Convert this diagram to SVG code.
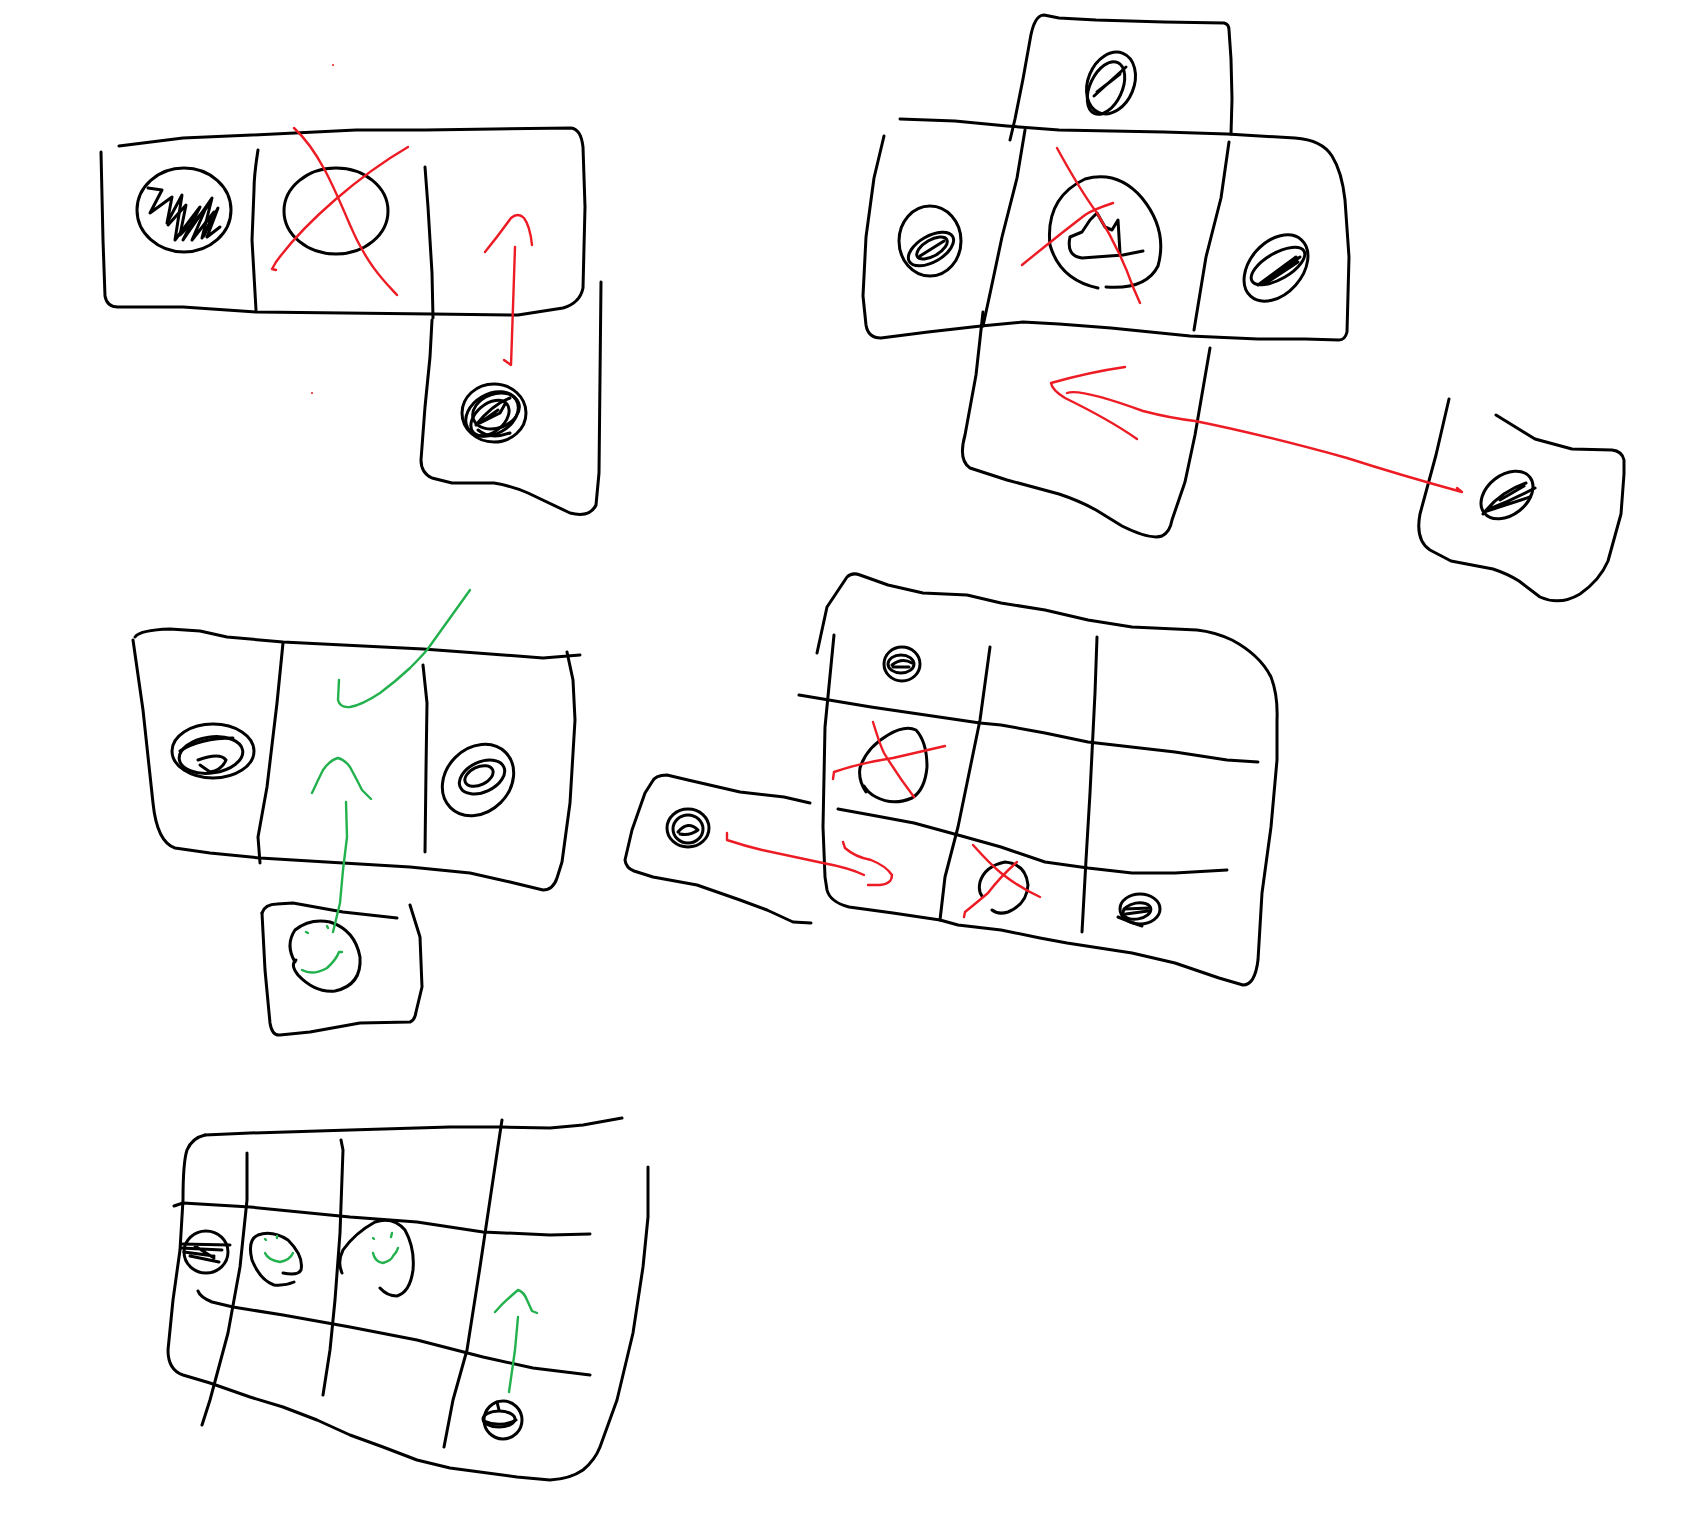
<svg xmlns="http://www.w3.org/2000/svg" width="1681" height="1525" viewBox="0 0 1681 1525">
<style>
.k{fill:none;stroke:#000;stroke-width:3;stroke-linecap:round;stroke-linejoin:round}
.r{fill:none;stroke:#ed1c24;stroke-width:2.4;stroke-linecap:round;stroke-linejoin:round}
.g{fill:none;stroke:#22b14c;stroke-width:2.4;stroke-linecap:round;stroke-linejoin:round}
</style>
<rect width="1681" height="1525" fill="#fff"/>

<!-- Section A: top-left -->
<g id="sheetA">
<path class="k" d="M101,152 L103,240 L105,296 Q107,307 118,307 L183,307 L256,312 L432,314 L518,315 L563,308 Q580,303 583,288 L585,207 L583,147 Q581,129 571,128 L494,129 L425,130 L356,130 L252,135 L183,138 L119,146"/>
<path class="k" d="M258,150 Q254,175 254,190 L252,240 L256,310"/>
<path class="k" d="M425,167 L428,207 L432,273 L433,318"/>
<path class="k" d="M432,320 L430,357 L425,407 L421,460 Q421,473 432,478 L452,483 L494,483 Q512,486 528,493 L570,513 Q590,518 596,505 L599,473 L601,282"/>
</g>
<g id="nodeA1">
<ellipse class="k" cx="184" cy="210" rx="47" ry="42"/>
<path class="k" d="M148,188 L162,190 L150,213 L172,197 L167,223 L182,195 L175,240 L200,207 L183,240 L212,198 L202,238 L218,208 L207,237 L220,227"/>
<path class="k" d="M168,225 L186,205 L180,235 L205,210 L192,240 L214,212 L204,236 M192,225 L208,206"/>
</g>
<g id="nodeA2">
<ellipse class="k" cx="336" cy="211" rx="52" ry="43"/>
</g>
<g id="nodeA3">
<ellipse class="k" cx="494" cy="413" rx="32" ry="29"/>
<ellipse class="k" cx="492" cy="414" rx="28" ry="20" transform="rotate(-30 492 414)"/>
<ellipse class="k" cx="496" cy="411" rx="24" ry="17" transform="rotate(-20 496 411)"/>
<ellipse class="k" cx="490" cy="418" rx="22" ry="14" transform="rotate(-40 490 418)"/>
<path class="k" d="M476,425 Q492,405 510,398 M480,423 L500,413 L505,404 M478,430 Q490,440 510,433 M484,420 L498,410"/>
</g>

<!-- Section B: top-right -->
<g id="sheetB">
<path class="k" d="M1010,140 L1015,119 L1023,79 L1030,40 Q1034,15 1044,15 L1059,18 L1096,20 L1164,22 L1224,23 Q1229,24 1229,30 L1231,59 L1232,99 L1231,134"/>
<path class="k" d="M900,119 L955,121 L1007,126 L1059,130 L1164,132 L1227,134 L1295,138 Q1322,140 1332,156 Q1342,172 1345,200 L1349,257 L1347,332 Q1345,340 1339,340 L1305,339 L1258,339 L1190,336 L1111,328 L1059,324 L1023,322 L981,326 L928,332 L881,338 Q868,338 866,325 L863,296 L866,237 L874,178 L884,136"/>
<path class="k" d="M1025,130 L1017,178 L1002,237 L991,289 L983,326"/>
<path class="k" d="M1229,142 L1221,198 L1206,257 L1194,330"/>
<path class="k" d="M983,312 L976,375 L965,435 Q958,460 970,468 L1007,480 L1059,494 Q1080,501 1096,510 L1122,526 Q1150,540 1162,536 Q1170,532 1172,520 L1185,482 L1195,435 L1210,348"/>
<path class="k" d="M1449,399 L1436,455 L1420,514 Q1415,540 1430,550 L1451,561 L1493,569 Q1508,574 1519,581 L1540,597 Q1560,606 1580,594 Q1600,580 1608,561 L1621,514 L1624,474 L1624,460 Q1622,451 1612,450 L1572,449 L1535,439 L1496,415"/>
</g>
<g id="nodeB1">
<ellipse class="k" cx="1111" cy="83" rx="23" ry="32" transform="rotate(22 1111 83)"/>
<ellipse class="k" cx="1106" cy="88" rx="16" ry="28" transform="rotate(25 1106 88)"/>
<path class="k" d="M1094,96 L1126,67 M1097,92 L1120,74"/>
</g>
<g id="nodeB2">
<ellipse class="k" cx="930" cy="241" rx="31" ry="35"/>
<ellipse class="k" cx="931" cy="249" rx="25" ry="13" transform="rotate(-30 931 249)"/>
<ellipse class="k" cx="932" cy="248" rx="17" ry="8" transform="rotate(-30 932 248)"/>
<path class="k" d="M920,256 L944,241"/>
</g>
<g id="nodeB3">
<path class="k" d="M1098,288 Q1060,280 1050,245 Q1045,198 1085,179 Q1118,170 1142,198 Q1168,230 1158,266 Q1146,290 1106,287"/>
<path class="k" d="M1070,237 Q1066,256 1082,258 L1123,255 L1143,251 M1070,237 L1082,232 L1090,220 L1097,213 L1105,227 L1112,230 L1118,220 L1120,253"/>
</g>
<g id="nodeB4">
<ellipse class="k" cx="1276" cy="268" rx="26" ry="38" transform="rotate(42 1276 268)"/>
<ellipse class="k" cx="1278" cy="266" rx="13" ry="30" transform="rotate(60 1278 266)"/>
<path class="k" d="M1258,285 L1296,257 M1262,284 L1300,257 M1266,283 L1298,262"/>
</g>
<g id="nodeB5">
<ellipse class="k" cx="1507" cy="495" rx="29" ry="20" transform="rotate(-38 1507 495)"/>
<path class="k" d="M1483,514 Q1500,492 1526,483 M1484,512 L1530,497 M1487,510 Q1512,500 1535,488 M1500,500 L1524,486"/>
</g>

<!-- Section C: middle-left -->
<g id="sheetC">
<path class="k" d="M135,637 Q140,630 170,629 L200,631 L227,637 L283,642 L343,645 L423,649 L477,653 L543,658 L580,655"/>
<path class="k" d="M133,640 L143,710 L153,803 Q157,842 175,848 L210,853 L260,858 L343,863 L410,867 L470,873 L510,882 L543,890 Q553,890 557,878 L562,862 L570,803 L575,720 L573,680 L567,652"/>
<path class="k" d="M283,643 L277,703 L267,787 L258,837 L260,863"/>
<path class="k" d="M423,665 L427,703 L426,770 L425,852"/>
<path class="k" d="M262,913 L265,970 L270,1023 Q272,1036 280,1035 L310,1032 L360,1023 L410,1022 Q415,1020 416,1012 L422,987 L420,937 L410,905"/>
<path class="k" d="M262,913 Q265,904 277,904 L293,903 L343,912 L397,918"/>
</g>
<g id="nodeC1">
<ellipse class="k" cx="213" cy="751" rx="41" ry="27"/>
<ellipse class="k" cx="211" cy="755" rx="32" ry="18" transform="rotate(-8 211 755)"/>
<path class="k" d="M180,751 Q200,738 233,738 M198,760 Q220,752 226,760 Q222,770 210,772 L200,765"/>
</g>
<g id="nodeC2">
<ellipse class="k" cx="478" cy="780" rx="32" ry="39" transform="rotate(45 478 780)"/>
<ellipse class="k" cx="482" cy="777" rx="24" ry="15" transform="rotate(-25 482 777)"/>
<ellipse class="k" cx="479" cy="776" rx="15" ry="9" transform="rotate(-25 479 776)"/>
</g>
<g id="nodeC3">
<path class="k" d="M295,962 Q285,945 295,930 Q310,918 330,922 Q355,930 360,957 Q362,985 335,991 Q315,993 298,975 Q290,965 296,960"/>
</g>

<!-- Section D: middle-right -->
<g id="sheetD">
<path class="k" d="M817,653 L827,607 L847,577 Q852,572 860,575 L888,585 L923,593 L967,595 L1001,603 L1045,610 L1088,620 L1132,627 L1197,630 Q1215,632 1232,640 Q1260,655 1271,677 Q1278,695 1277,720 L1277,760 L1271,827 L1262,893 L1258,960 Q1255,985 1243,985 L1219,978 L1175,963 L1132,953 L1067,943 L1040,938 L1001,930 L958,925 L940,920 L893,913 L849,907 Q830,902 827,890 L825,877 L823,827 L825,727 L834,635"/>
<path class="k" d="M990,647 L980,720 L958,827 L945,877 L940,920"/>
<path class="k" d="M1097,637 L1095,693 L1090,793 L1086,860 L1082,932"/>
<path class="k" d="M799,695 L871,707 L980,723 L1001,725 L1045,733 L1088,742 L1175,752 L1227,760 L1258,762"/>
<path class="k" d="M838,809 L871,815 L914,823 L958,835 L1001,847 L1045,862 L1088,868 L1132,873 L1175,873 L1227,870"/>
<path class="k" d="M810,803 L784,797 L740,792 L688,780 L667,775 Q655,775 652,782 L645,793 L632,830 L625,860 Q626,868 634,871 L653,877 L697,885 L740,900 L767,910 L793,922 L811,923"/>
</g>
<g id="nodeD1">
<ellipse class="k" cx="902" cy="664" rx="18" ry="17"/>
<ellipse class="k" cx="901" cy="664" rx="13" ry="9"/>
<path class="k" d="M892,665 Q902,657 912,663 M893,667 L909,667"/>
</g>
<g id="nodeD2">
<path class="k" d="M866,792 Q858,780 860,768 Q866,748 888,735 Q905,725 916,730 Q927,742 927,767 Q925,790 912,798 Q893,806 876,797 Q868,793 864,786"/>
</g>
<g id="nodeD3">
<path class="k" d="M992,910 Q998,915 1008,912 Q1027,904 1028,885 Q1026,864 1005,862 Q985,866 980,882 Q978,891 982,896"/>
</g>
<g id="nodeD4">
<ellipse class="k" cx="1140" cy="909" rx="20" ry="15"/>
<ellipse class="k" cx="1137" cy="911" rx="14" ry="8" transform="rotate(-10 1137 911)"/>
<path class="k" d="M1124,909 L1150,908 M1126,914 L1148,911 M1118,917 Q1130,922 1142,926"/>
</g>
<g id="nodeD5">
<ellipse class="k" cx="688" cy="828" rx="21" ry="19"/>
<ellipse class="k" cx="688" cy="829" rx="15" ry="14"/>
<path class="k" d="M678,832 Q688,820 698,830 Q690,836 680,834"/>
</g>

<!-- Section E: bottom-left -->
<g id="sheetE">
<path class="k" d="M205,1135 L250,1133 L350,1130 L450,1127 L500,1127 L550,1128 L583,1125 L622,1118"/>
<path class="k" d="M205,1135 Q192,1138 187,1150 Q183,1162 183,1200 L180,1250 L173,1300 L168,1350 Q168,1370 183,1375 L210,1383 L250,1397 L283,1407 L317,1420 L350,1435 L383,1447 L417,1460 L450,1468 L517,1477 L550,1480 Q570,1479 583,1470 Q595,1460 600,1447 L617,1400 L633,1333 L643,1267 L648,1217 L648,1167"/>
<path class="k" d="M247,1153 L247,1200 L240,1267 L228,1333 L210,1400 L202,1425"/>
<path class="k" d="M341,1140 L343,1150 L340,1233 L335,1300 L330,1350 L323,1395"/>
<path class="k" d="M502,1120 L500,1133 L490,1200 L480,1267 L467,1350 L453,1400 L444,1447"/>
<path class="k" d="M174,1206 L183,1203 L250,1207 L350,1217 L417,1222 L483,1232 L550,1235 L590,1234"/>
<path class="k" d="M198,1291 Q200,1297 212,1302 L233,1307 L283,1315 L350,1327 L417,1340 L483,1357 L533,1368 L590,1375"/>
</g>
<g id="nodeE1">
<ellipse class="k" cx="206" cy="1252" rx="22" ry="21"/>
<path class="k" d="M181,1244 L230,1245 M181,1248 L222,1250 M184,1252 L214,1256 M190,1256 L219,1262 M195,1246 L214,1258"/>
</g>
<g id="nodeE2">
<path class="k" d="M294,1282 Q285,1286 274,1285 Q260,1280 252,1260 Q247,1240 258,1235 Q272,1230 288,1240 Q304,1256 301,1270 Q298,1276 283,1273"/>
</g>
<g id="nodeE3">
<path class="k" d="M342,1273 Q337,1262 343,1250 Q355,1233 375,1222 Q393,1216 405,1230 Q415,1248 413,1270 Q410,1292 397,1296 Q387,1296 380,1288"/>
</g>
<g id="nodeE4">
<ellipse class="k" cx="503" cy="1420" rx="19" ry="19"/>
<ellipse class="k" cx="499" cy="1419" rx="16" ry="8"/>
<path class="k" d="M484,1421 Q500,1428 516,1420 M497,1402 L499,1410"/>
</g>

<!-- connectors / marks -->
<g id="connectors">
<path class="r" d="M294,128 C318,150 333,185 350,225 S385,282 397,295"/>
<path class="r" d="M408,147 C360,175 305,222 276,262 L272,269 L276,270"/>
<path class="r" d="M485,252 Q498,236 511,218 Q518,212 524,218 Q530,226 532,245"/>
<path class="r" d="M515,247 L513,307 L511,365 L504,360"/>
<circle cx="333" cy="65" r="1" fill="#ed1c24"/>
<circle cx="312" cy="393" r="1" fill="#ed1c24"/>
<path class="r" d="M1057,148 Q1080,190 1097,213 Q1120,250 1133,287 L1140,303"/>
<path class="r" d="M1113,203 Q1092,210 1085,215 Q1055,238 1022,265"/>
<path class="r" d="M1125,367 Q1090,372 1051,383 Q1052,390 1065,398 Q1110,420 1137,439"/>
<path class="r" d="M1067,393 Q1080,388 1143,411 Q1170,418 1195,421 Q1260,434 1347,458 Q1400,475 1462,492 L1457,488"/>
<path class="g" d="M339,680 L338,700 Q340,708 350,707 Q362,705 380,693 Q395,682 410,668 Q420,658 427,650 L470,590"/>
<path class="g" d="M312,793 Q318,780 323,770 Q330,760 338,758 Q345,760 350,767 Q357,780 362,790 L371,799"/>
<path class="g" d="M346,802 L347,837 L343,870 L340,903 L333,932"/>
<path class="g" d="M302,970 Q313,976 327,968 Q336,960 339,952 L342,952"/>
<path class="g" d="M306,932 L308,933 M327,926 L328,928"/>
<path class="r" d="M873,722 Q880,745 884,753 Q898,776 914,797"/>
<path class="r" d="M945,746 Q915,753 893,758 Q860,763 834,772 L833,779"/>
<path class="r" d="M973,845 Q990,864 1001,873 Q1020,888 1040,897"/>
<path class="r" d="M1017,862 Q1000,877 988,893 Q975,904 965,912 L964,917"/>
<path class="r" d="M727,833 L727,840 Q745,846 762,850 Q800,858 823,863 Q850,868 864,875"/>
<path class="r" d="M843,842 L845,848 Q855,857 871,860 Q886,866 892,875 Q892,884 880,885 L868,885"/>
<path class="g" d="M265,1253 Q268,1260 280,1262 Q290,1260 293,1253"/>
<path class="g" d="M265,1239 L266,1240 M277,1236 L277,1238"/>
<path class="g" d="M373,1253 Q375,1262 383,1263 Q392,1260 393,1256 Q397,1252 398,1248"/>
<path class="g" d="M373,1238 L374,1239 M392,1233 L391,1237"/>
<path class="g" d="M495,1312 Q503,1303 510,1297 L518,1290 Q524,1292 527,1300 L532,1311 L537,1313"/>
<path class="g" d="M518,1317 L515,1350 L509,1392"/>
</g>
</svg>
